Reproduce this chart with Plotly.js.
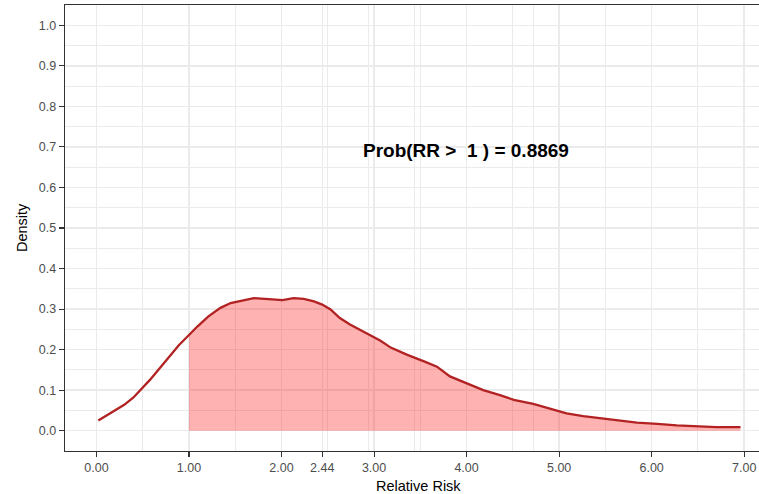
<!DOCTYPE html>
<html>
<head>
<meta charset="utf-8">
<script src="https://cdn.plot.ly/plotly-3.0.1.min.js"></script>
<style>html,body{margin:0;padding:0;background:#fff;overflow:hidden;}</style>
</head>
<body>
<div id="chart" style="width:759px;height:494px;"></div>
<script>
// Density of relative risk
const rr = [0.02, 0.15, 0.30, 0.40, 0.49, 0.58, 0.69, 0.80, 0.89, 1.00, 1.09, 1.21, 1.34, 1.45, 1.56, 1.70, 1.90, 2.01, 2.13, 2.24, 2.35, 2.44, 2.53, 2.63, 2.74, 2.85, 2.96, 3.07, 3.18, 3.36, 3.54, 3.68, 3.82, 4.00, 4.18, 4.36, 4.51, 4.72, 4.90, 5.08, 5.26, 5.44, 5.62, 5.84, 6.06, 6.27, 6.70, 6.96];
const density = [0.025, 0.043, 0.064, 0.082, 0.103, 0.126, 0.156, 0.186, 0.211, 0.236, 0.257, 0.282, 0.303, 0.315, 0.320, 0.327, 0.324, 0.322, 0.327, 0.325, 0.319, 0.311, 0.299, 0.278, 0.262, 0.248, 0.236, 0.222, 0.205, 0.187, 0.171, 0.158, 0.134, 0.116, 0.100, 0.088, 0.076, 0.066, 0.055, 0.043, 0.036, 0.031, 0.025, 0.020, 0.017, 0.013, 0.009, 0.009];
const threshold = 1;
const probText = "Prob(RR > &nbsp;1 ) = 0.8869";
const xTickVals = [0, 1, 2, 2.44, 3, 4, 5, 6, 7];
const xTickText = ["0.00", "1.00", "2.00", "2.44", "3.00", "4.00", "5.00", "6.00", "7.00"];
const xMinorVals = [0.5, 1.5, 2.5, 3.5, 4.5, 5.5, 6.5, 4.72, 2.94, 3.44];
const yTickVals = [0, 0.1, 0.2, 0.3, 0.4, 0.5, 0.6, 0.7, 0.8, 0.9, 1.0];
const yTickText = ["0.0", "0.1", "0.2", "0.3", "0.4", "0.5", "0.6", "0.7", "0.8", "0.9", "1.0"];

const fillX = [], fillY = [];
rr.forEach((v, i) => { if (v >= threshold) { fillX.push(v); fillY.push(density[i]); } });

const font = "Liberation Sans, Arial, sans-serif";
const traces = [
  {x: fillX, y: fillY, type: "scatter", mode: "lines", fill: "tozeroy",
   fillcolor: "rgba(255,0,0,0.3)", line: {width: 0, color: "rgba(0,0,0,0)"}, hoverinfo: "skip", showlegend: false},
  {x: rr, y: density, type: "scatter", mode: "lines",
   line: {color: "#b22222", width: 2.3}, showlegend: false}
];

const layout = {
  width: 759, height: 494,
  margin: {l: 65, r: 0, t: 5, b: 43},
  paper_bgcolor: "#ffffff", plot_bgcolor: "#ffffff",
  font: {family: font},
  showlegend: false,
  xaxis: {
    range: [-0.34, 7.16], tickmode: "array", tickvals: xTickVals, ticktext: xTickText,
    showgrid: true, gridcolor: "#ebebeb", gridwidth: 1.4, zeroline: false,
    showline: true, linecolor: "#333333", linewidth: 1.3, mirror: true,
    ticks: "outside", ticklen: 5, tickcolor: "#333333", tickwidth: 1.1,
    tickfont: {family: font, size: 12.5, color: "#4d4d4d"},
    minor: {tickmode: "array", tickvals: xMinorVals, showgrid: true, gridcolor: "#ebebeb", gridwidth: 1.1, ticks: ""}
  },
  yaxis: {
    range: [-0.05, 1.05], tickmode: "array", tickvals: yTickVals, ticktext: yTickText,
    showgrid: true, gridcolor: "#ebebeb", gridwidth: 1.4, zeroline: false,
    showline: true, linecolor: "#333333", linewidth: 1.3, mirror: false,
    ticks: "outside", ticklen: 5, tickcolor: "#333333", tickwidth: 1.1,
    tickfont: {family: font, size: 12.5, color: "#4d4d4d"},
    minor: {tick0: 0.05, dtick: 0.1, showgrid: true, gridcolor: "#ebebeb", gridwidth: 1.1, ticks: ""}
  },
  annotations: [
    {x: 3.99, y: 0.692, xref: "x", yref: "y", text: "<b>" + probText + "</b>", showarrow: false,
     font: {family: font, size: 19, color: "#000000"}, xanchor: "center", yanchor: "middle"},
    {x: 3.48, y: 0, xref: "x", yref: "paper", yshift: -35, text: "Relative Risk", showarrow: false,
     font: {family: font, size: 14.5, color: "#000000"}, xanchor: "center", yanchor: "middle"},
    {x: 0, y: 0.5, xref: "paper", yref: "paper", xshift: -43, text: "Density", textangle: -90, showarrow: false,
     font: {family: font, size: 14.5, color: "#000000"}, xanchor: "center", yanchor: "middle"}
  ]
};

Plotly.newPlot("chart", traces, layout, {displayModeBar: false, staticPlot: true});
</script>
</body>
</html>
